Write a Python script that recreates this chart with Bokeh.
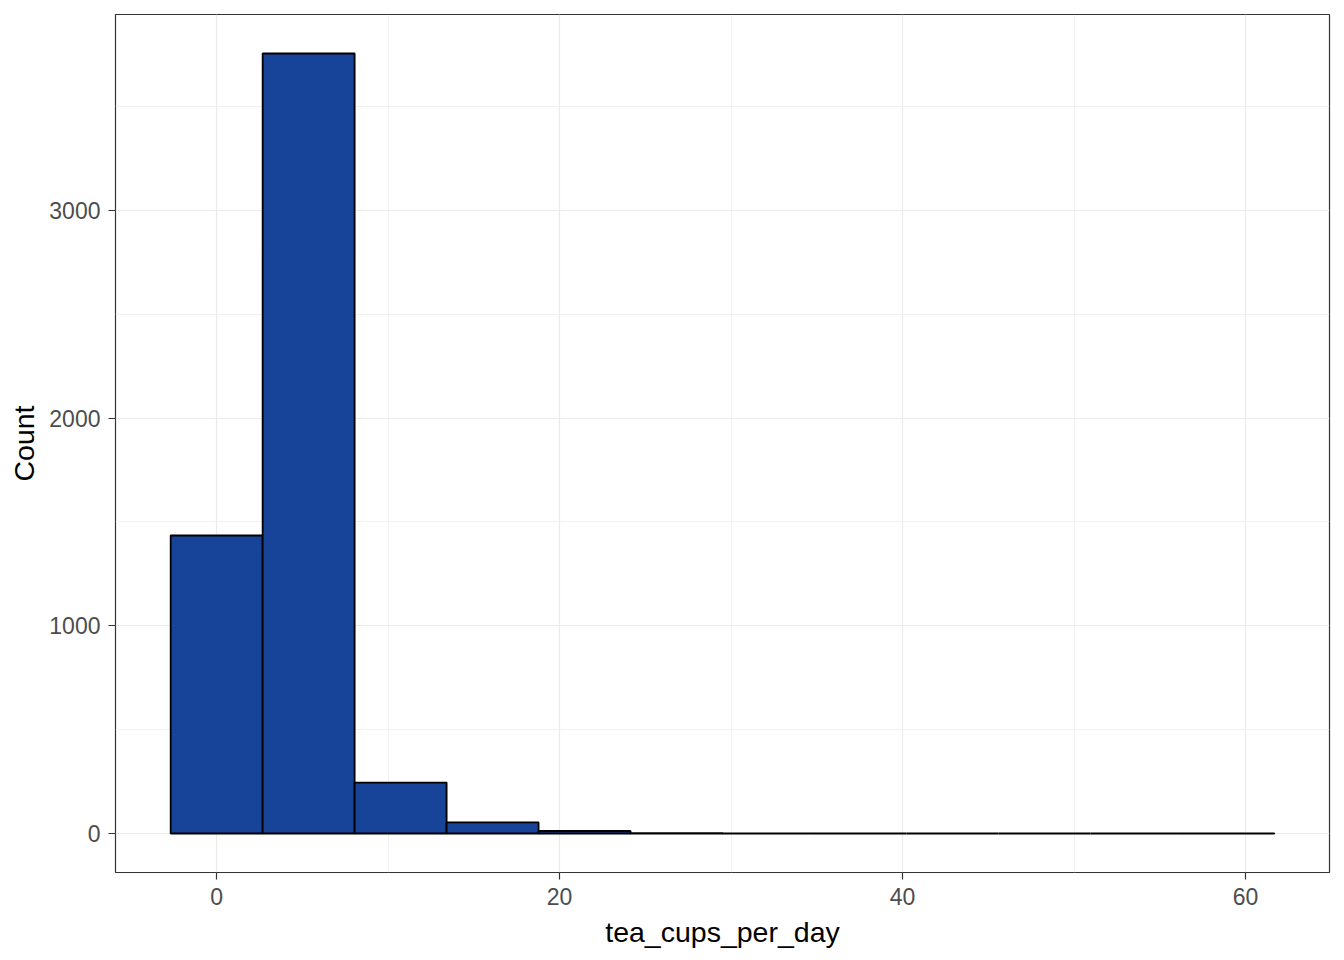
import numpy as np
from bokeh.plotting import figure
from bokeh.models import FixedTicker, Range1d
from bokeh.embed import file_html
from bokeh.resources import INLINE

# ---- data ----
data_min = 0.0
data_max = 59.0
n_bins = 12
counts = [1435, 3756, 245, 54, 12, 2, 1, 0, 0, 0, 0, 1]
x_ticks = [0, 20, 40, 60]
x_minor = [10, 30, 50]
y_ticks = [0, 1000, 2000, 3000]
y_minor = [500, 1500, 2500, 3500]
x_title = "tea_cups_per_day"
y_title = "Count"

width_bin = (data_max - data_min) / (n_bins - 1)
edges = data_min - width_bin / 2 + width_bin * np.arange(n_bins + 1)
left = edges[:-1]
right = edges[1:]

xr = edges[-1] - edges[0]
ymax = max(counts)

p = figure(width=1344, height=960, output_backend="svg", toolbar_location=None,
           x_range=Range1d(edges[0] - 0.05 * xr, edges[-1] + 0.05 * xr),
           y_range=Range1d(-0.05 * ymax, 1.05 * ymax),
           min_border_left=115, min_border_right=15, min_border_top=14, min_border_bottom=88)

p.background_fill_color = "white"
p.border_fill_color = "white"
p.outline_line_color = "#333333"
p.outline_line_width = 1.2

p.quad(left=left, right=right, bottom=0, top=counts,
       fill_color="#174399", line_color="black", line_width=1.8)

p.xaxis.ticker = FixedTicker(ticks=x_ticks, minor_ticks=x_minor)
p.yaxis.ticker = FixedTicker(ticks=y_ticks, minor_ticks=y_minor)

for g in [p.xgrid[0], p.ygrid[0]]:
    g.grid_line_color = "#EBEBEB"
    g.grid_line_width = 1.2
    g.minor_grid_line_color = "#EBEBEB"
    g.minor_grid_line_width = 0.7

for ax in [p.xaxis[0], p.yaxis[0]]:
    ax.axis_line_color = None
    ax.major_tick_line_color = "#333333"
    ax.major_tick_line_width = 1.2
    ax.major_tick_out = 7
    ax.major_tick_in = 0
    ax.minor_tick_line_color = None
    ax.major_label_text_font = "Liberation Sans"
    ax.major_label_text_font_size = "23px"
    ax.major_label_text_color = "#4D4D4D"
    ax.axis_label_text_font = "Liberation Sans"
    ax.axis_label_text_font_size = "28.5px"
    ax.axis_label_text_font_style = "normal"
    ax.axis_label_text_color = "black"

p.xaxis.axis_label = x_title
p.yaxis.axis_label = y_title
p.xaxis.major_label_standoff = 8
p.yaxis.major_label_standoff = 8
p.xaxis.axis_label_standoff = 8
p.yaxis.axis_label_standoff = 6

open("out.html", "w").write(file_html(p, INLINE))
